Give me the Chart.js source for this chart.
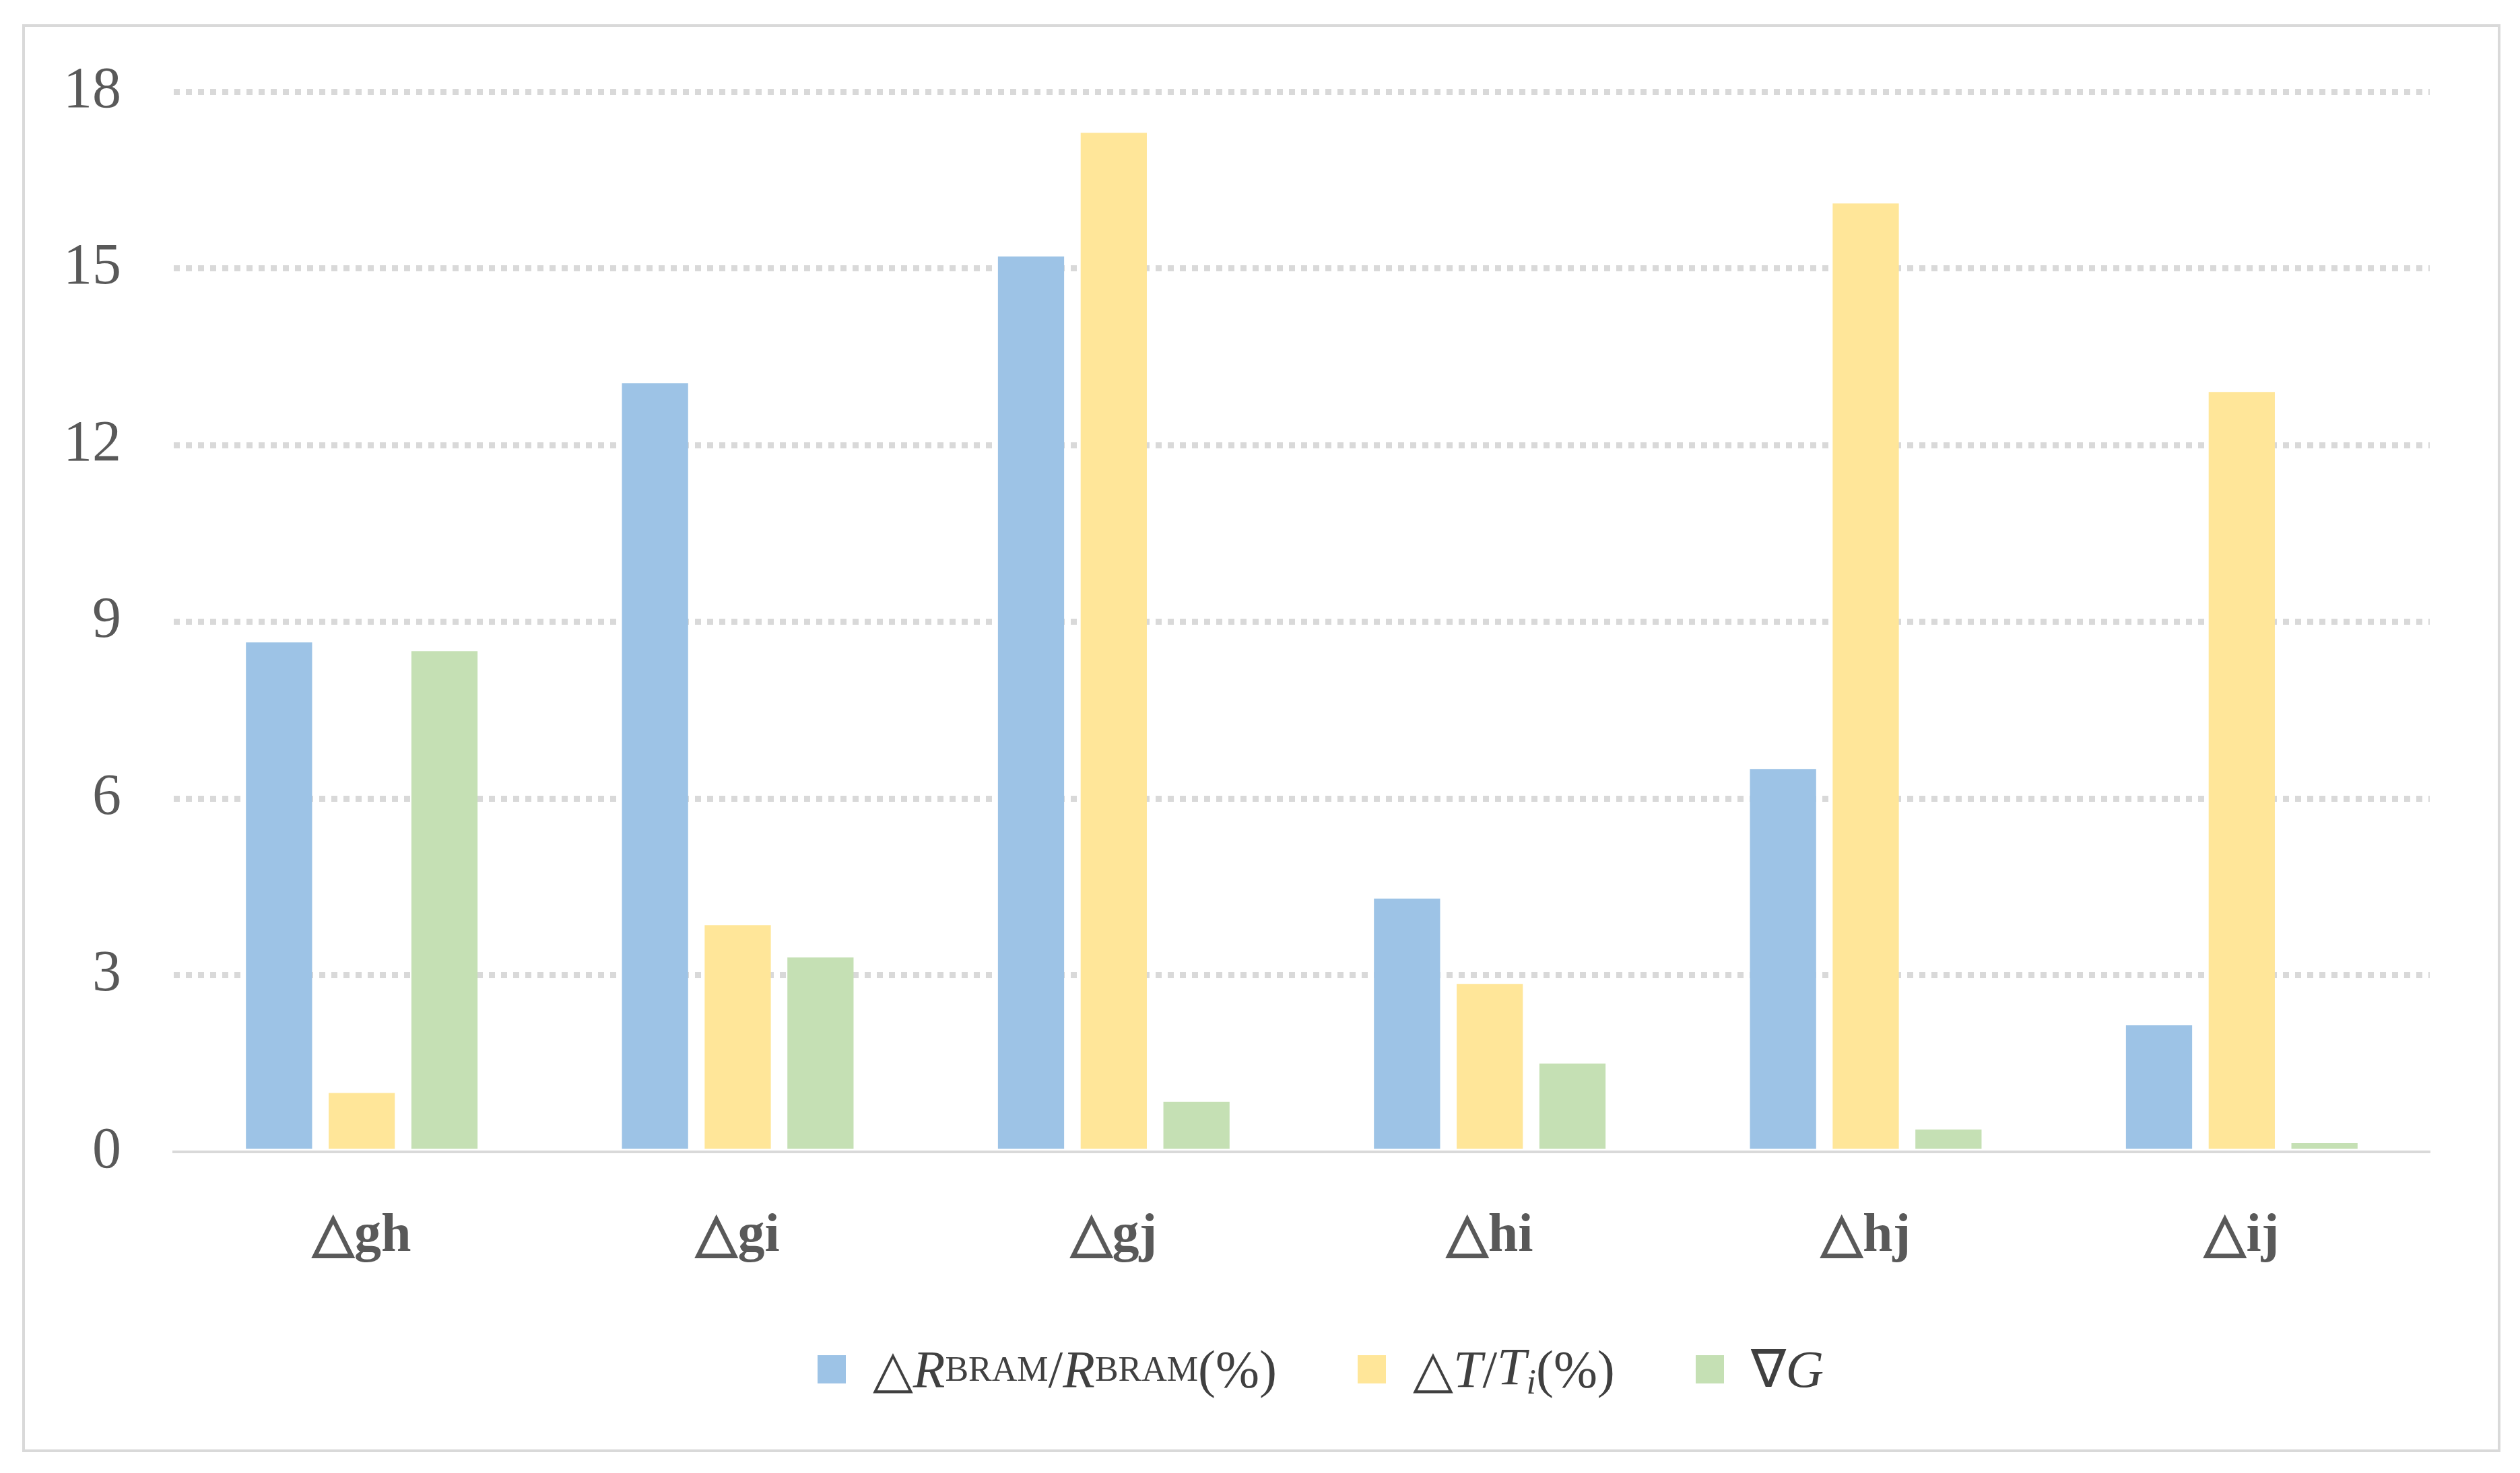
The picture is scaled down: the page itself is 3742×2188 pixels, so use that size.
<!DOCTYPE html>
<html>
<head>
<meta charset="utf-8">
<script src="https://cdn.jsdelivr.net/npm/chart.js@4/dist/chart.umd.min.js"></script>
<style>
  html, body { margin: 0; padding: 0; background: #fff; }
  #wrap { position: relative; width: 3742px; height: 2188px; }
  #frame { position: absolute; left: 33px; top: 36px; width: 3672px; height: 2113px; border: 4px solid #d9d9d9; }
  canvas { position: absolute; left: 0; top: 0; }
  #legend { position: absolute; left: 0; width: 3742px; top: 1985px; display: flex; justify-content: center;
    font-family: "Liberation Serif", serif; font-size: 78px; color: #404040; padding-left: 180px; box-sizing: border-box; }
  .item { display: flex; align-items: center; margin: 0 60px; white-space: nowrap; }
  .sw { width: 42px; height: 42px; margin-right: 40px; }
  sub { font-size: 52px; vertical-align: -14px; }
</style>
</head>
<body>
<div id="wrap">
  <div id="frame"></div>
  <canvas id="chart" width="3742" height="2188"></canvas>
  <div id="legend">
    <div class="item"><span class="sw" style="background:#9dc3e6"></span>△<i>R</i><sub>BRAM</sub>/<i>R</i><sub>BRAM</sub>(%)</div>
    <div class="item"><span class="sw" style="background:#ffe699"></span>△<i>T</i>/<i>T<sub>i</sub></i>(%)</div>
    <div class="item"><span class="sw" style="background:#c5e0b4"></span>∇<i>G</i></div>
  </div>
</div>
<script>
const categories = ["△gh", "△gi", "△gj", "△hi", "△hj", "△ij"]
const ratioR = [8.65, 13.05, 15.2, 4.3, 6.5, 2.15]
const ratioT = [1.0, 3.85, 17.3, 2.85, 16.1, 12.9]
const gradG = [8.5, 3.3, 0.85, 1.5, 0.38, 0.15]
const yTicks = [0, 3, 6, 9, 12, 15, 18]

new Chart(document.getElementById("chart"), {
    type: 'bar',
    data: {
        labels: categories,
        datasets: [
            { label: 'R', data: ratioR, backgroundColor: '#9dc3e6' },
            { label: 'T', data: ratioT, backgroundColor: '#ffe699' },
            { label: 'G', data: gradG, backgroundColor: '#c5e0b4' }
        ]
    },
    options: {
        responsive: false,
        devicePixelRatio: 1,
        animation: false,
        categoryPercentage: 0.66,
        barPercentage: 0.8,
        layout: { padding: { left: 0, top: 136, right: 134, bottom: 0 } },
        plugins: { legend: { display: false }, tooltip: { enabled: false } },
        scales: {
            x: {
                afterFit: (s) => { s.height = 477 },
                grid: { display: false },
                border: { display: true, color: '#d9d9d9', width: 4 },
                ticks: { color: '#595959', padding: 70, font: { family: 'Liberation Serif', size: 80, weight: 'bold' } }
            },
            y: {
                min: 0, max: 18,
                afterFit: (s) => { s.width = 258 },
                afterBuildTicks: (s) => { s.ticks = yTicks.map(v => ({ value: v })) },
                border: { display: false, dash: [9, 9] },
                grid: {
                    color: (c) => c.tick && c.tick.value === 0 ? 'rgba(0,0,0,0)' : '#d9d9d9',
                    lineWidth: 9,
                    drawTicks: false
                },
                ticks: { color: '#595959', padding: 78, font: { family: 'Liberation Serif', size: 86 } }
            }
        }
    }
})
</script>
</body>
</html>
